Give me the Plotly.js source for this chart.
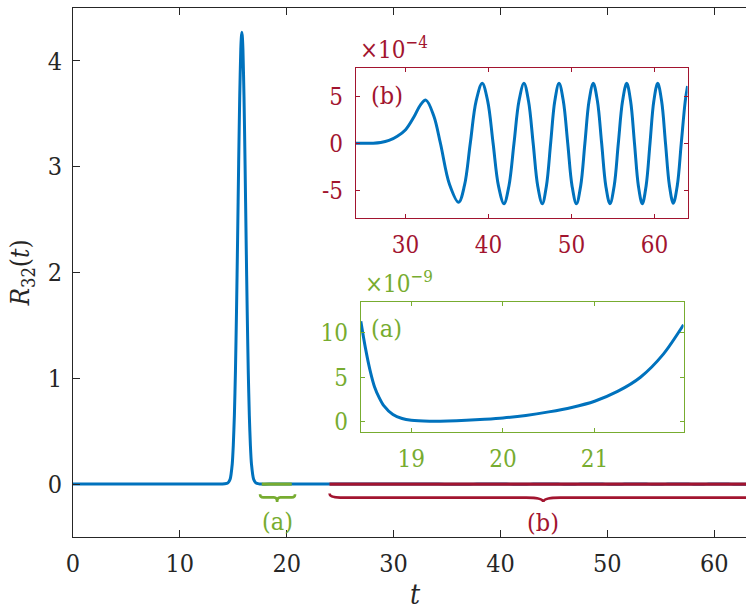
<!DOCTYPE html>
<html>
<head>
<meta charset="utf-8">
<script src="https://cdn.plot.ly/plotly-3.0.1.min.js"></script>
<style>
html,body{margin:0;padding:0;overflow:hidden;background:#fff;}
#chart{width:760px;height:611px;}
</style>
</head>
<body>
<div id="chart"></div>
<script>
// ---- data ----
var peakT = [0, 13.5, 14.2, 14.5, 14.7, 14.9, 15.0, 15.1, 15.2, 15.3, 15.4, 15.5, 15.6, 15.7, 15.75, 15.8, 15.85, 15.9, 16.0, 16.1, 16.2, 16.3, 16.4, 16.5, 16.6, 16.7, 16.9, 17.1, 17.4, 17.6];
var peakR = [0, 0, 0.003, 0.012, 0.045, 0.19, 0.37, 0.65, 1.07, 1.64, 2.31, 3.03, 3.67, 4.11, 4.22, 4.27, 4.22, 4.11, 3.66, 3.02, 2.30, 1.63, 1.06, 0.645, 0.362, 0.188, 0.045, 0.012, 0.002, 0];

var zoomAT = [18.45, 18.5, 18.55, 18.6, 18.65, 18.7, 18.8, 18.9, 19.0, 19.2, 19.4, 19.6, 19.8, 20.0, 20.25, 20.5, 20.75, 21.0, 21.25, 21.5, 21.75, 21.97];
var zoomAR = [11.3, 8.3, 5.8, 3.9, 2.7, 1.8, 0.8, 0.35, 0.15, 0.05, 0.07, 0.15, 0.27, 0.42, 0.7, 1.1, 1.6, 2.3, 3.4, 5.0, 7.6, 10.9];
var scaleA = 1e-9;

var zoomBT = [24, 26, 27, 28, 29, 30, 31, 31.8, 32.45,
  33.4, 34.2, 35.3, 36.39, 37.1, 37.8, 38.5, 39.24, 39.9, 40.55, 41.2, 41.86,
  42.46, 43.07, 43.67, 44.27, 44.82, 45.38, 45.93, 46.48, 46.98, 47.49, 47.99, 48.5,
  49.02, 49.55, 50.07, 50.6, 51.11, 51.62, 52.12, 52.63, 53.13, 53.64, 54.14, 54.64,
  55.15, 55.65, 56.16, 56.66, 57.13, 57.6, 58.07, 58.54, 59.0, 59.47, 59.93, 60.4,
  60.87, 61.34, 61.81, 62.28, 62.76, 63.24, 63.72, 64];
var zoomBR = [0, 0.01, 0.08, 0.3, 0.75, 1.45, 2.8, 4.1, 4.6,
  2.9, 0, -4.4, -6.3, -4.5, 0, 4.5, 6.4, 4.5, 0, -4.55, -6.45,
  -4.55, 0, 4.5, 6.4, 4.5, 0, -4.55, -6.45, -4.55, 0, 4.5, 6.4,
  4.5, 0, -4.55, -6.45, -4.55, 0, 4.5, 6.4, 4.5, 0, -4.55, -6.45,
  -4.55, 0, 4.5, 6.4, 4.5, 0, -4.55, -6.45, -4.55, 0, 4.5, 6.4,
  4.5, 0, -4.5, -6.4, -4.5, 0, 4.5, 6.1];
var scaleB = 1e-4;

var spanA = [17.66, 20.47];
var braceA = [17.5, 20.78, 19.1];
var spanB = [24, 64];
var braceB = [24, 64, 44];

var mainXTicks = [0, 10, 20, 30, 40, 50, 60];
var mainYTicks = [0, 1, 2, 3, 4];
var insetBXTicks = [30, 40, 50, 60];
var insetBYTicks = [-5, 0, 5];
var insetBYText = ['-5', '0', '5'];
var insetAXTicks = [19, 20, 21];
var insetAYTicks = [0, 5, 10];

// ---- build ----
var BLUE = '#0072BD', RED = '#A2142F', GREEN = '#77AC30', AX = '#262626';
var FONT = 'DejaVu Serif Condensed';

var mainT = peakT.concat(zoomAT, zoomBT);
var mainR = peakR.concat(zoomAR.map(function(v){return v*scaleA;}), zoomBR.map(function(v){return v*scaleB;}));

var traces = [
  {x: mainT, y: mainR, xaxis: 'x', yaxis: 'y', mode: 'lines', line: {color: BLUE, width: 3, shape: 'spline', smoothing: 0.6}, hoverinfo: 'skip'},
  {x: spanA, y: [0, 0], xaxis: 'x', yaxis: 'y', mode: 'lines', line: {color: GREEN, width: 3.2}, hoverinfo: 'skip'},
  {x: spanB, y: [0, 0], xaxis: 'x', yaxis: 'y', mode: 'lines', line: {color: RED, width: 3.2}, hoverinfo: 'skip'},
  {x: zoomBT, y: zoomBR, xaxis: 'x2', yaxis: 'y2', mode: 'lines', line: {color: BLUE, width: 3, shape: 'spline', smoothing: 1}, hoverinfo: 'skip'},
  {x: zoomAT, y: zoomAR, xaxis: 'x3', yaxis: 'y3', mode: 'lines', line: {color: BLUE, width: 3, shape: 'spline', smoothing: 0.8}, hoverinfo: 'skip'}
];

function bracePath(b, dEnd, dTip, yEnd, yBar, yTip) {
  var x0 = b[0], x1 = b[1], xm = b[2];
  return 'M ' + x0 + ',' + yEnd +
    ' Q ' + x0 + ',' + yBar + ' ' + (x0 + dEnd) + ',' + yBar +
    ' L ' + (xm - dTip) + ',' + yBar +
    ' Q ' + xm + ',' + yBar + ' ' + xm + ',' + yTip +
    ' Q ' + xm + ',' + yBar + ' ' + (xm + dTip) + ',' + yBar +
    ' L ' + (x1 - dEnd) + ',' + yBar +
    ' Q ' + x1 + ',' + yBar + ' ' + x1 + ',' + yEnd;
}

function axisStyle(color, size, ticklen) {
  return {
    showline: true, linecolor: color, linewidth: 1, mirror: 'ticks',
    ticks: 'inside', ticklen: ticklen, tickwidth: 1, tickcolor: color,
    showgrid: false, zeroline: false, fixedrange: true,
    tickfont: {family: FONT, size: size, color: color}
  };
}

var xa = Object.assign(axisStyle(AX, 25, 7), {
  domain: [0, 1], range: [0, 64], tickvals: mainXTicks, anchor: 'y', ticklabelstandoff: 4,
  title: {text: '<i>t</i>', font: {family: FONT, size: 28, color: AX}, standoff: 13}, automargin: false
});
var ya = Object.assign(axisStyle(AX, 25, 7), {
  domain: [0, 1], range: [-0.5, 4.5], tickvals: mainYTicks, anchor: 'x', ticklabelstandoff: 5,
  title: {text: '<i>R</i><sub>32</sub>(<i>t</i>)', font: {family: FONT, size: 26, color: AX}, standoff: 10}, automargin: false
});
var xb = Object.assign(axisStyle(RED, 24, 4), {
  domain: [0.4135, 0.8985], range: [24, 64], tickvals: insetBXTicks, anchor: 'y2', ticklabelstandoff: 5
});
var yb = Object.assign(axisStyle(RED, 24, 4), {
  domain: [0.6025, 0.8861], range: [-8, 8], tickvals: insetBYTicks, ticktext: insetBYText, anchor: 'x2', ticklabelstandoff: 7
});
var xc = Object.assign(axisStyle(GREEN, 24, 4), {
  domain: [0.4208, 0.8926], range: [18.45, 21.97], tickvals: insetAXTicks, anchor: 'y3', ticklabelstandoff: 5
});
var yc = Object.assign(axisStyle(GREEN, 24, 4), {
  domain: [0.1979, 0.4448], range: [-1.2, 13.5], tickvals: insetAYTicks, anchor: 'x3', ticklabelstandoff: 7
});

var layout = {
  width: 760, height: 611,
  margin: {l: 73, r: 3, t: 8, b: 74},
  paper_bgcolor: '#fff', plot_bgcolor: '#fff',
  showlegend: false,
  font: {family: FONT, size: 24},
  xaxis: xa, yaxis: ya, xaxis2: xb, yaxis2: yb, xaxis3: xc, yaxis3: yc,
  shapes: [
    {type: 'path', xref: 'x', yref: 'y', path: bracePath(braceA, 0.3, 0.3, -0.095, -0.125, -0.17), line: {color: GREEN, width: 2.6}},
    {type: 'path', xref: 'x', yref: 'y', path: bracePath(braceB, 1.0, 1.6, -0.09, -0.128, -0.17), line: {color: RED, width: 2.6}}
  ],
  annotations: [
    {x: braceA[2], y: -0.355, xref: 'x', yref: 'y', text: '(a)', showarrow: false, font: {family: FONT, size: 25, color: GREEN}},
    {x: braceB[2], y: -0.36, xref: 'x', yref: 'y', text: '(b)', showarrow: false, font: {family: FONT, size: 25, color: RED}},
    {x: 27.7, y: 5.1, xref: 'x2', yref: 'y2', text: '(b)', showarrow: false, font: {family: FONT, size: 25, color: RED}},
    {x: 18.73, y: 10.5, xref: 'x3', yref: 'y3', text: '(a)', showarrow: false, font: {family: FONT, size: 25, color: GREEN}},
    {x: 0.4168, y: 0.924, xref: 'paper', yref: 'paper', xanchor: 'left', yanchor: 'middle', text: '×10<sup>−4</sup>', showarrow: false, font: {family: FONT, size: 24, color: RED}},
    {x: 0.4242, y: 0.482, xref: 'paper', yref: 'paper', xanchor: 'left', yanchor: 'middle', text: '×10<sup>−9</sup>', showarrow: false, font: {family: FONT, size: 24, color: GREEN}}
  ]
};

Plotly.newPlot('chart', traces, layout, {staticPlot: true, displayModeBar: false});
</script>
</body>
</html>
